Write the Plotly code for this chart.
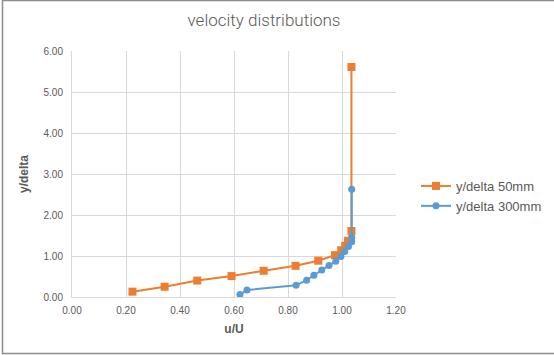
import plotly.graph_objects as go

x_50mm = [0.224, 0.343, 0.464, 0.591, 0.710, 0.828, 0.912, 0.974, 0.997, 1.012, 1.022, 1.035, 1.035]
y_50mm = [0.13, 0.25, 0.40, 0.51, 0.64, 0.76, 0.885, 1.02, 1.14, 1.25, 1.37, 1.61, 5.61]

x_300mm = [0.622, 0.648, 0.830, 0.869, 0.896, 0.925, 0.952, 0.977, 0.996, 1.010, 1.024, 1.036, 1.036, 1.036]
y_300mm = [0.06, 0.17, 0.285, 0.41, 0.53, 0.66, 0.77, 0.87, 0.99, 1.11, 1.23, 1.35, 1.46, 2.63]

x_ticks = [0, 0.2, 0.4, 0.6, 0.8, 1.0, 1.2]
y_ticks = [0, 1, 2, 3, 4, 5, 6]

W, H = 554, 355
L, R, T, B = 72, 158, 51, 58
pw = W - L - R
ph = H - T - B

fig = go.Figure()
fig.add_trace(go.Scatter(
    x=x_50mm, y=y_50mm, mode="lines+markers", name="y/delta 50mm",
    line=dict(color="#ED7D31", width=2),
    marker=dict(symbol="square", size=8, color="#ED7D31"),
))
fig.add_trace(go.Scatter(
    x=x_300mm, y=y_300mm, mode="lines+markers", name="y/delta 300mm",
    line=dict(color="#5B9BD5", width=2),
    marker=dict(symbol="circle", size=7, color="#5B9BD5"),
))

font_fam = "Liberation Sans, Arial, sans-serif"
fig.update_layout(
    width=W, height=H,
    margin=dict(l=L, r=R, t=T, b=B, autoexpand=False),
    paper_bgcolor="white", plot_bgcolor="white",
    font=dict(family=font_fam, color="#595959", size=10),
    title=dict(text="velocity distributions", x=(264 - L) / pw, xref="paper", xanchor="center",
               y=1 - 20 / H, yanchor="middle",
               font=dict(size=17, color="#595959", family="Roboto, sans-serif", weight=300)),
    legend=dict(x=(416 - L) / pw, y=(297 - 196) / ph, xanchor="left", yanchor="middle",
                font=dict(size=13, color="#595959"), bgcolor="rgba(0,0,0,0)",
                tracegroupgap=5, itemwidth=30),
    showlegend=True,
    xaxis=dict(range=[0, 1.2], tickvals=x_ticks, tickformat=".2f",
               showgrid=True, gridcolor="#D9D9D9", gridwidth=1,
               showline=True, linecolor="#D9D9D9", zeroline=False, mirror=False,
               ticks="", tickfont=dict(size=10, color="#595959"), ticklabelstandoff=4,
               title=dict(text="<b>u/U</b>", font=dict(size=12, color="#595959"), standoff=9)),
    yaxis=dict(range=[0, 6], tickvals=y_ticks, tickformat=".2f",
               showgrid=True, gridcolor="#D9D9D9", gridwidth=1,
               showline=True, linecolor="#D9D9D9", zeroline=False,
               ticks="", tickfont=dict(size=10, color="#595959"), ticklabelstandoff=6,
               title=dict(text="<b>y/delta</b>", font=dict(size=12, color="#595959"), standoff=12)),
)

fig.add_shape(type="rect", xref="paper", yref="paper",
              x0=(2.5 - L) / pw, x1=(W + 20 - L) / pw,
              y0=-(353.5 - T - ph) / ph, y1=(ph + T - 0.5) / ph,
              line=dict(color="#8C8C8C", width=1.5), fillcolor="rgba(0,0,0,0)", layer="above")

fig.write_html("out.html", config={"displayModeBar": False},
               post_script="document.body.style.margin='0';document.body.style.overflow='hidden';")
